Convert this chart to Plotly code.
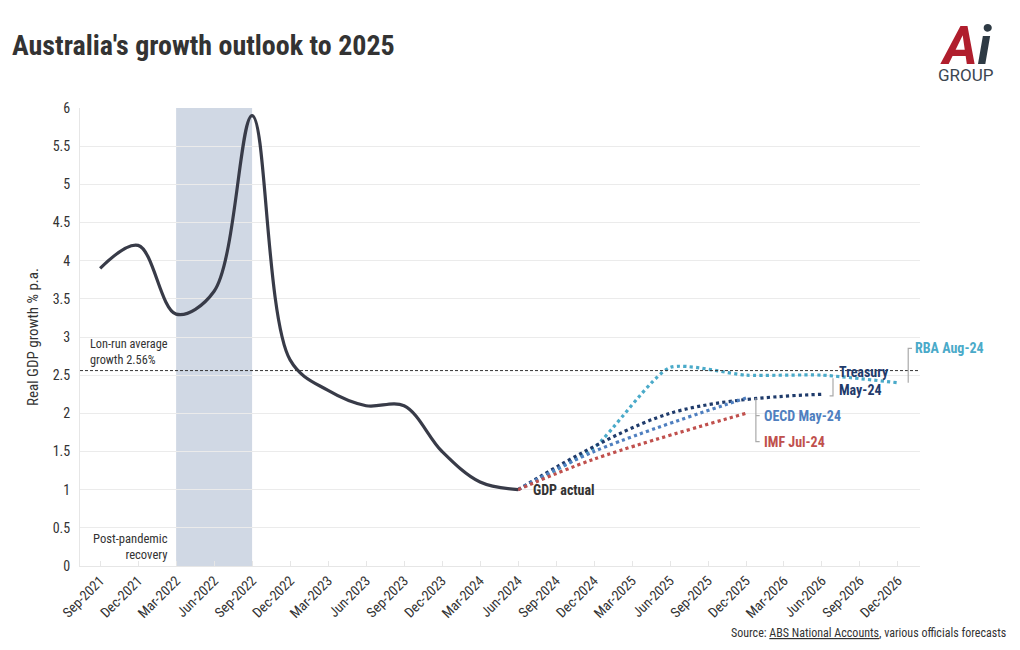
import plotly.graph_objects as go

# ---------------- data ----------------
quarters = ["Sep-2021", "Dec-2021", "Mar-2022", "Jun-2022", "Sep-2022", "Dec-2022",
            "Mar-2023", "Jun-2023", "Sep-2023", "Dec-2023", "Mar-2024", "Jun-2024",
            "Sep-2024", "Dec-2024", "Mar-2025", "Jun-2025", "Sep-2025", "Dec-2025",
            "Mar-2026", "Jun-2026", "Sep-2026", "Dec-2026"]

gdp_q = ["Sep-2021", "Dec-2021", "Mar-2022", "Jun-2022", "Sep-2022", "Dec-2022",
         "Mar-2023", "Jun-2023", "Sep-2023", "Dec-2023", "Mar-2024", "Jun-2024"]
gdp_vals = [3.9, 4.2, 3.3, 3.6, 5.9, 2.7, 2.3, 2.1, 2.1, 1.5, 1.1, 1.0]

rba_q = ["Jun-2024", "Dec-2024", "Jun-2025", "Dec-2025", "Jun-2026", "Dec-2026"]
rba_vals = [1.0, 1.55, 2.6, 2.5, 2.5, 2.4]

tsy_q = ["Jun-2024", "Jun-2025", "Jun-2026"]
tsy_vals = [1.0, 2.0, 2.25]

oecd_q = ["Jun-2024", "Dec-2024", "Dec-2025"]
oecd_vals = [1.0, 1.5, 2.2]

imf_q = ["Jun-2024", "Dec-2024", "Dec-2025"]
imf_vals = [1.0, 1.4, 2.0]

long_run_avg = 2.56
recovery_start, recovery_end = "Mar-2022", "Sep-2022"

y_ticks = [0, 0.5, 1, 1.5, 2, 2.5, 3, 3.5, 4, 4.5, 5, 5.5, 6]


def xi(labels):
    return [quarters.index(q) for q in labels]


FONT = "Roboto Condensed, Roboto, sans-serif"
C_GDP = "#383b48"
C_RBA = "#4aaac9"
C_TSY = "#1f3b6b"
C_OECD = "#4f7fbf"
C_IMF = "#c0504d"
C_TXT = "#333333"
C_BRK = "#aaaaaa"

PW, PH = 840, 458  # plot-area size in px (for paper-relative placement)

fig = go.Figure()

for name, q, v, c, sm in [("RBA Aug-24", rba_q, rba_vals, C_RBA, 0.6),
                          ("Treasury May-24", tsy_q, tsy_vals, C_TSY, 1.0),
                          ("OECD May-24", oecd_q, oecd_vals, C_OECD, 1.0),
                          ("IMF Jul-24", imf_q, imf_vals, C_IMF, 1.0)]:
    fig.add_trace(go.Scatter(x=xi(q), y=v, mode="lines", name=name,
                             line=dict(color=c, width=3.2, dash="dot", shape="spline", smoothing=sm)))

fig.add_trace(go.Scatter(x=xi(gdp_q), y=gdp_vals, mode="lines", name="GDP actual",
                         line=dict(color=C_GDP, width=3.2, shape="spline", smoothing=1.0)))

# shaded recovery period
fig.add_shape(type="rect", xref="x", yref="y",
              x0=quarters.index(recovery_start), x1=quarters.index(recovery_end),
              y0=0, y1=6, fillcolor="#d0d8e4", line=dict(width=0), layer="below")

# long-run average line
fig.add_shape(type="line", xref="paper", yref="y", x0=0, x1=1,
              y0=long_run_avg, y1=long_run_avg,
              line=dict(color="#333333", width=1, dash="3px,2px"))

# bracket callouts
last = len(quarters) - 1
fig.add_shape(type="path", xref="x", yref="y",
              path=f"M {last+0.37},2.85 L {last+0.27},2.85 L {last+0.27},{rba_vals[-1]}",
              line=dict(color=C_BRK, width=1.2))
tx = quarters.index(tsy_q[-1])
fig.add_shape(type="path", xref="x", yref="y",
              path=f"M {tx+0.29},2.46 L {tx+0.29},{tsy_vals[-1]-0.02} L {tx+0.2},{tsy_vals[-1]-0.02}",
              line=dict(color=C_BRK, width=1.2))
ox = quarters.index(oecd_q[-1])
fig.add_shape(type="path", xref="x", yref="y",
              path=f"M {ox+0.26},{oecd_vals[-1]} L {ox+0.26},1.63 L {ox+0.36},1.63",
              line=dict(color=C_BRK, width=1.2))
fig.add_shape(type="path", xref="x", yref="y",
              path=f"M {ox+0.26},1.97 L {ox+0.36},1.97",
              line=dict(color=C_BRK, width=1.2))

ann = []
ann.append(dict(x=last + 0.4, y=2.85, xref="x", yref="y", text="<b>RBA Aug-24</b>",
                xanchor="left", yanchor="middle", showarrow=False,
                font=dict(family=FONT, size=14, color=C_RBA)))
ann.append(dict(x=tx + 0.4, y=2.42, xref="x", yref="y", text="<b>Treasury<br>May-24</b>",
                xanchor="left", yanchor="middle", showarrow=False, align="left",
                font=dict(family=FONT, size=14, color=C_TSY)))
ann.append(dict(x=ox + 0.42, y=1.97, xref="x", yref="y", text="<b>OECD May-24</b>",
                xanchor="left", yanchor="middle", showarrow=False,
                font=dict(family=FONT, size=14, color=C_OECD)))
ann.append(dict(x=ox + 0.42, y=1.63, xref="x", yref="y", text="<b>IMF Jul-24</b>",
                xanchor="left", yanchor="middle", showarrow=False,
                font=dict(family=FONT, size=14, color=C_IMF)))
ann.append(dict(x=quarters.index(gdp_q[-1]) + 0.35, y=gdp_vals[-1], xref="x", yref="y",
                text="<b>GDP actual</b>", xanchor="left", yanchor="middle", showarrow=False,
                font=dict(family=FONT, size=14, color=C_TXT)))
ann.append(dict(x=8 / PW, y=long_run_avg, xref="paper", yref="y",
                text="Lon-run average<br>growth 2.56%", xanchor="left", yanchor="bottom",
                yshift=2, showarrow=False, align="left",
                font=dict(family=FONT, size=12.3, color=C_TXT)))
ann.append(dict(x=quarters.index(recovery_start) - 0.15, y=0, xref="x", yref="y",
                text="Post-pandemic<br>recovery", xanchor="right", yanchor="bottom",
                yshift=2, showarrow=False, align="right",
                font=dict(family=FONT, size=12.6, color=C_TXT)))
# title
ann.append(dict(x=-70 / PW, y=1 + 63 / PH, xref="paper", yref="paper",
                text="<b>Australia's growth outlook to 2025</b>", xanchor="left",
                yanchor="middle", showarrow=False,
                font=dict(family=FONT, size=28, color=C_TXT)))
# source
ann.append(dict(x=1 + 88 / PW, y=-67 / PH, xref="paper", yref="paper",
                text="Source: <u>ABS National Accounts</u>, various officials forecasts",
                xanchor="right", yanchor="middle", showarrow=False,
                font=dict(family=FONT, size=12, color=C_TXT)))
# logo
ann.append(dict(x=1 + 46 / PW, y=1 + 62 / PH, xref="paper", yref="paper",
                text="<b><i><span style='color:#b01e2d'>A</span><span style='color:#2e3a44'>i</span></i></b>",
                xanchor="center", yanchor="middle", showarrow=False,
                font=dict(family="Roboto, sans-serif", size=53)))
ann.append(dict(x=1 + 45.5 / PW, y=1 + 33 / PH, xref="paper", yref="paper",
                text="GROUP", xanchor="center", yanchor="middle", showarrow=False,
                font=dict(family="Roboto, sans-serif", size=17, color="#3c4650")))

fig.update_layout(
    width=1012, height=642,
    margin=dict(l=72, r=100, t=100, b=84),
    paper_bgcolor="white", plot_bgcolor="white",
    showlegend=False,
    font=dict(family=FONT, size=12, color=C_TXT),
    annotations=ann,
)

fig.update_xaxes(
    range=[-0.53, 21.58], tickmode="array", tickvals=list(range(len(quarters))), ticktext=quarters,
    tickangle=-45, showgrid=False, zeroline=False,
    showline=True, linecolor="#e6e6e6", linewidth=1,
    ticks="inside", ticklen=5, tickcolor="#e6e6e6",
    tickfont=dict(family=FONT, size=14, color=C_TXT),
)
fig.update_yaxes(
    range=[0, 6], tickmode="array", tickvals=y_ticks, ticktext=[f"{t:g}" for t in y_ticks],
    showgrid=True, gridcolor="#ebebeb", gridwidth=1, zeroline=False,
    showline=True, linecolor="#e6e6e6", linewidth=1,
    ticks="outside", ticklen=6, tickcolor="white",
    tickfont=dict(family=FONT, size=14, color=C_TXT),
    title=dict(text="Real GDP growth % p.a.", font=dict(family=FONT, size=15, color=C_TXT), standoff=10),
)

fig.write_html("out.html")
